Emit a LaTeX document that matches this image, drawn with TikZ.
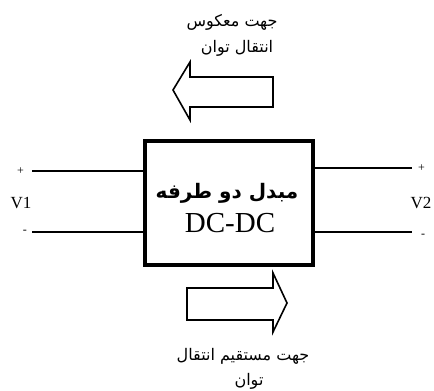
\documentclass[tikz,border=0pt]{standalone}
\usepackage{fontspec}
\setmainfont{Liberation Serif}
\newfontfamily\arabicfont[Script=Arabic]{DejaVu Sans}
\TeXXeTstate=1
\usetikzlibrary{positioning,calc}

\begin{document}
\begin{tikzpicture}[x=1pt,y=-1pt,
  wire/.style={line width=1.8pt},
  flow/.style={line width=1.6pt,line join=miter},
  farsi/.style={font=\arabicfont\fontsize{16}{16}\selectfont,inner sep=0pt},
  pole/.style={font=\fontsize{12}{12}\selectfont,inner sep=0pt},
  volt/.style={font=\fontsize{17}{17}\selectfont,inner sep=0pt}]
  \useasboundingbox (0,0) rectangle (434,391);
  \node[draw,line width=3.2pt,minimum width=168,minimum height=124,inner sep=0pt] (conv) at (229,203) {};
  \node[font=\arabicfont\bfseries\fontsize{20}{20}\selectfont] (title) at (227,193) {\beginR مبدل دو طرفه\endR};
  \node[font=\fontsize{29}{29}\selectfont] (dcdc) at (230,223) {DC-DC};
  \coordinate (inp) at (32,171);
  \coordinate (inn) at (32,232);
  \coordinate (outp) at (412,168);
  \coordinate (outn) at (412,232);
  \draw[wire] (inp) -- (inp -| conv.west);
  \draw[wire] (inn) -- (inn -| conv.west);
  \draw[wire] (conv.east |- outp) -- (outp);
  \draw[wire] (conv.east |- outn) -- (outn);
  \node[pole,left=8pt of inp] (inplus) {+};
  \node[pole,left=5pt of inn] (inminus) {-};
  \node[pole,right=6pt of outp] (outplus) {+};
  \node[pole,right=9pt of outn,yshift=-4pt] (outminus) {-};
  \node[volt] (v1) at (21,203) {V1};
  \node[volt] (v2) at (421,203) {V2};
  \draw[flow] (173,90) -- (190,62) -- (190,77) -- (273,77) -- (273,107) -- (190,107) -- (190,120) -- cycle;
  \draw[flow] (187,288) -- (273,288) -- (273,273) -- (287,303) -- (273,332) -- (273,320) -- (187,320) -- cycle;
  \node[farsi] (rev1) at (232,22) {\beginR جهت معکوس\endR};
  \node[farsi] (rev2) at (237,48) {\beginR انتقال توان\endR};
  \node[farsi] (fwd1) at (243,356) {\beginR جهت مستقیم انتقال\endR};
  \node[farsi] (fwd2) at (249,381) {\beginR توان\endR};
\end{tikzpicture}
\end{document}
